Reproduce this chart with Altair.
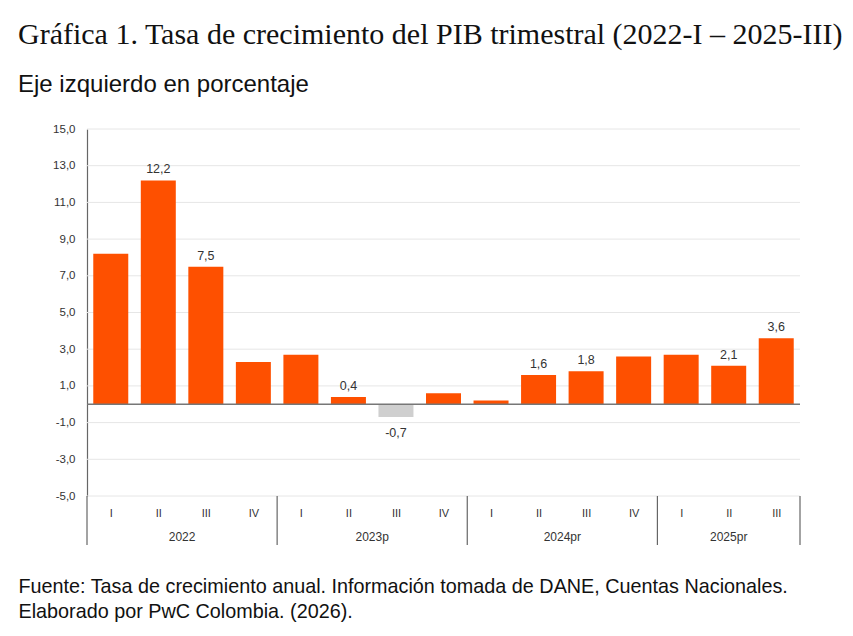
import altair as alt
import pandas as pd

# ---- data ----
years = ["2022", "2023p", "2024pr", "2025pr"]
quarters_per_year = [4, 4, 4, 3]
quarter_names = ["I", "II", "III", "IV"]
growth = [8.2, 12.2, 7.5, 2.3, 2.7, 0.4, -0.7, 0.6, 0.2, 1.6, 1.8, 2.6, 2.7, 2.1, 3.6]
labelled = [False, True, True, False, False, True, True, False, False, True, True, False, False, True, True]
y_ticks = [15, 13, 11, 9, 7, 5, 3, 1, -1, -3, -5]

TITLE = "Gráfica 1. Tasa de crecimiento del PIB trimestral (2022-I – 2025-III)"
SUBTITLE = "Eje izquierdo en porcentaje"
SOURCE = ["Fuente: Tasa de crecimiento anual. Información tomada de DANE, Cuentas Nacionales.",
          "Elaborado por PwC Colombia. (2026)."]

# ---- tables built from the arrays ----
rows = []
i = 0
for yr, nq in zip(years, quarters_per_year):
    for q in range(nq):
        v = growth[i]
        rows.append({
            "idx": i,
            "quarter": quarter_names[q],
            "year": yr,
            "value": v,
            "sign": "pos" if v >= 0 else "neg",
            "label": (f"{v:.1f}".replace(".", ",") if labelled[i] else ""),
        })
        i += 1
bars = pd.DataFrame(rows)

year_rows, bounds = [], []
start = 0
for yr, nq in zip(years, quarters_per_year):
    year_rows.append({"year": yr, "center": start + (nq - 1) / 2})
    bounds.append({"b": start - 0.5})
    start += nq
bounds.append({"b": start - 0.5})
year_df = pd.DataFrame(year_rows)
bound_df = pd.DataFrame(bounds)
tick_df = pd.DataFrame({"value": y_ticks})
zero_df = pd.DataFrame({"value": [0]})

n = len(growth)
W, H = 713, 367
label_map = "{" + ",".join(f"'{r['idx']}':'{r['quarter']}'" for r in rows) + "}"

xscale = alt.Scale(domain=[-0.5, n - 0.5], nice=False, zero=False, padding=0)
yscale = alt.Scale(domain=[-5, 15], nice=False)

y_axis = alt.Axis(values=y_ticks,
                  labelExpr="replace(replace(format(datum.value,'.1f'),'.',','),'\u2212','-')",
                  ticks=False, grid=False, domainColor="#666666", domainWidth=1.2,
                  labelPadding=12, labelOverlap=False,
                  labelFont="Liberation Sans", labelFontSize=11.5, labelColor="#333333",
                  title=None)
x_axis = alt.Axis(values=list(range(n)), labelExpr=f"{label_map}[''+datum.value]",
                  domain=False, ticks=False, grid=False, labelPadding=11, labelOverlap=False,
                  labelFont="Liberation Sans", labelFontSize=11, labelColor="#333333",
                  title=SOURCE, titleFont="Liberation Sans", titleFontSize=19.8,
                  titleFontWeight="normal", titleColor="#111111",
                  titleAnchor="start", titleAlign="left", titleX=-69, titleY=96,
                  titleLineHeight=25, titleBaseline="alphabetic")

Y = alt.Y("value:Q", scale=yscale, axis=y_axis)
X = alt.X("idx:Q", scale=xscale, axis=x_axis)

base = alt.Chart(bars)

grid_layer = alt.Chart(tick_df).mark_rule(color="#e6e6e6", strokeWidth=1).encode(y=Y)

bar_layer = base.mark_bar(width=35).encode(
    x=X, y=Y,
    color=alt.Color("sign:N", scale=alt.Scale(domain=["pos", "neg"], range=["#fe5000", "#cfcfcf"]),
                    legend=None),
)

pos_text = base.transform_filter("datum.value >= 0").mark_text(
    baseline="alphabetic", dy=-7, font="Liberation Sans", fontSize=12.5, color="#333333"
).encode(x=X, y=Y, text="label:N")

neg_text = base.transform_filter("datum.value < 0").mark_text(
    baseline="top", dy=10, font="Liberation Sans", fontSize=12.5, color="#333333"
).encode(x=X, y=Y, text="label:N")

zero_rule = alt.Chart(zero_df).mark_rule(color="#777777", strokeWidth=1.3).encode(y=Y)

sep_rule = alt.Chart(bound_df).mark_rule(color="#666666", strokeWidth=1.2).encode(
    x=alt.X("b:Q", scale=xscale, axis=x_axis),
    y=alt.value(H), y2=alt.value(H + 49),
)

year_text = alt.Chart(year_df).mark_text(
    baseline="middle", font="Liberation Sans", fontSize=12, color="#333333"
).encode(x=alt.X("center:Q", scale=xscale, axis=x_axis), y=alt.value(H + 41), text="year:N")

chart = alt.layer(grid_layer, bar_layer, zero_rule, pos_text, neg_text, sep_rule, year_text).properties(
    width=W, height=H,
    title=alt.TitleParams(
        text=TITLE, subtitle=SUBTITLE,
        font="Liberation Serif", fontSize=30, fontWeight="normal", color="#111111",
        subtitleFont="Liberation Sans", subtitleFontSize=24, subtitleColor="#111111",
        subtitlePadding=23, anchor="start", frame="group", dx=-69, offset=26,
    ),
).configure_view(stroke=None).properties(
    autosize=alt.AutoSizeParams(type="none"),
    padding={"left": 79, "top": 121, "right": 45, "bottom": 128},
)

chart.save("out.html", embed_options={"renderer": "svg", "actions": False})
